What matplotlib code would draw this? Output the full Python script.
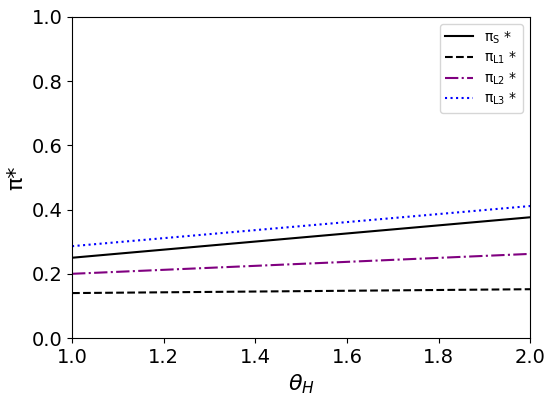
import matplotlib
matplotlib.use("Agg")
import matplotlib.pyplot as plt
import numpy as np

theta = [1.0, 2.0]
pi_s = [0.250, 0.376]
pi_l1 = [0.140, 0.152]
pi_l2 = [0.200, 0.262]
pi_l3 = [0.286, 0.411]

fig, ax = plt.subplots(figsize=(5.5, 4.01), dpi=100)
ax.plot(theta, pi_s, color="black", linestyle="-", lw=1.5, label=r"$\mathregular{\pi_S}$ *")
ax.plot(theta, pi_l1, color="black", linestyle="--", lw=1.5, label=r"$\mathregular{\pi_{L1}}$ *")
ax.plot(theta, pi_l2, color="purple", linestyle="-.", lw=1.5, label=r"$\mathregular{\pi_{L2}}$ *")
ax.plot(theta, pi_l3, color="blue", linestyle=":", lw=1.5, label=r"$\mathregular{\pi_{L3}}$ *")

ax.set_xlim(1.0, 2.0)
ax.set_ylim(0.0, 1.0)
ax.set_xticks(np.arange(1.0, 2.01, 0.2))
ax.set_yticks(np.arange(0.0, 1.01, 0.2))
ax.tick_params(labelsize=14)
ax.set_xlabel(r"$\theta_H$", fontsize=16)
ax.set_ylabel("π*", fontsize=16)
ax.legend(loc="upper right", fontsize=10, labelspacing=0.3)

fig.subplots_adjust(left=0.131, right=0.964, top=0.958, bottom=0.157)
fig.savefig("out.png", dpi=100)
